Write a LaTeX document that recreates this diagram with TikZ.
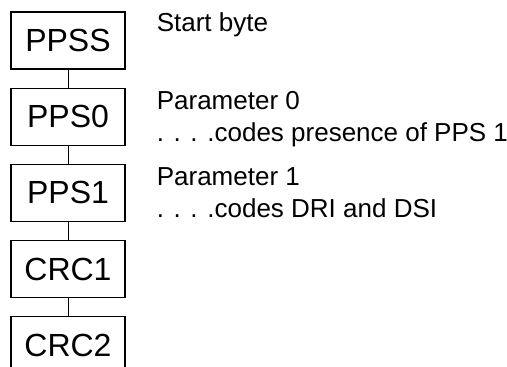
\documentclass[tikz,border=0pt]{standalone}
\usepackage{fontspec}
\setmainfont{Liberation Sans}
\usetikzlibrary{positioning}

\begin{document}
\begin{tikzpicture}[x=1pt, y=1pt,
    field/.style={draw, line width=1.2pt, minimum width=114pt, minimum height=57pt,
                  inner sep=0pt, font=\fontsize{32}{36}\selectfont},
    note/.style={anchor=north west, inner sep=0pt, align=left,
                 font=\fontsize{26}{32}\selectfont},
    link/.style={line width=0.9pt}]
        \useasboundingbox (0,0) rectangle (507,367);              %
        \clip (0,0) rectangle (507,367);                         %
        \node[field] (ppss) at (68,326.5) {PPSS};                %start
        \node[field, below=18pt of ppss] (pps0) {PPS0};          %
        \node[field, below=18pt of pps0] (pps1) {PPS1};          %
        \node[field, below=18pt of pps1] (crc1) {CRC1};          %
        \node[field, below=18pt of crc1] (crc2) {CRC2};          %cut at bottom
        \draw[link] (ppss) -- (pps0);                            %
        \draw[link] (pps0) -- (pps1);                            %
        \draw[link] (pps1) -- (crc1);                            %
        \draw[link] (crc1) -- (crc2);                            %
        \node[note] (ppssnote) at ([xshift=31pt, yshift=-1pt]ppss.north east) {Start byte};
        \node[note] (pps0note) at ([xshift=31pt, yshift=-4pt]pps0.north east)
             {Parameter 0\\. . . .codes presence of PPS 1};
        \node[note] (pps1note) at ([xshift=31pt, yshift=-4pt]pps1.north east)
             {Parameter 1\\. . . .codes DRI and DSI};
\end{tikzpicture}
\end{document}
